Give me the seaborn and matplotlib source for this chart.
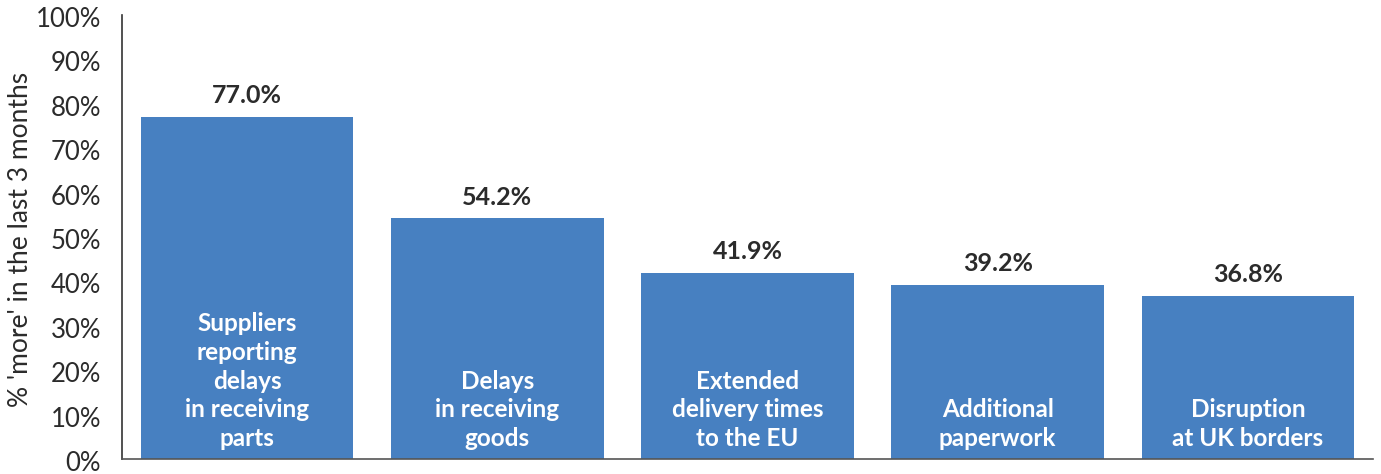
import matplotlib
matplotlib.use("Agg")
import matplotlib.pyplot as plt
import matplotlib.transforms as mtransforms
import seaborn as sns
import pandas as pd

# Survey results: share of respondents reporting 'more' of each issue
categories = [
    "Suppliers\nreporting\ndelays\nin receiving\nparts",
    "Delays\nin receiving\ngoods",
    "Extended\ndelivery times\nto the EU",
    "Additional\npaperwork",
    "Disruption\nat UK borders",
]
values = [77.0, 54.2, 41.9, 39.2, 36.8]
y_ticks = [0, 10, 20, 30, 40, 50, 60, 70, 80, 90, 100]

bar_color = "#4780C1"
text_dark = "#2b2b2b"

sns.set_theme(style="white")
plt.rcParams["font.family"] = ["Lato", "DejaVu Sans"]

df = pd.DataFrame({"category": categories, "value": values})

fig = plt.figure(figsize=(13.81, 4.74), dpi=100)
ax = fig.add_axes([122 / 1381, 15 / 474, (1373 - 122) / 1381, (459 - 15) / 474])

sns.barplot(data=df, x="category", y="value", color=bar_color, saturation=1,
            width=0.85, ax=ax, edgecolor="none")

ax.set_xlim(-0.5, 4.5)
ax.set_ylim(0, 100)
ax.set_yticks(y_ticks)
ax.set_yticklabels([f"{t}%" for t in y_ticks], fontsize=18.5, color=text_dark,
                   fontweight="normal")
ax.tick_params(axis="y", length=0, pad=15)
ax.tick_params(axis="x", length=0, labelbottom=False)
ax.set_xlabel("")
ylab = ax.set_ylabel("% 'more' in the last 3 months", fontsize=19,
                     color=text_dark, fontweight="normal")
ylab.set_verticalalignment("center")
ax.yaxis.set_label_coords(-0.0815, 0.495)

# nudge tick labels slightly below their gridline position
shift = mtransforms.ScaledTranslation(0, -2 / 100, fig.dpi_scale_trans)
for lbl in ax.get_yticklabels():
    lbl.set_transform(lbl.get_transform() + shift)

for side in ["top", "right"]:
    ax.spines[side].set_visible(False)
ax.spines["left"].set_color("#333333")
ax.spines["left"].set_linewidth(1.2)
ax.spines["bottom"].set_color("#555555")
ax.spines["bottom"].set_linewidth(1.2)

for i, (cat, v) in enumerate(zip(categories, values)):
    ax.annotate(f"{v:.1f}%", xy=(i, v), xytext=(0, 7), textcoords="offset points",
                ha="center", va="bottom", fontsize=18, fontweight="bold",
                color=text_dark)
    ax.text(i, 2.0, cat, ha="center", va="bottom", fontsize=17.5,
            fontweight="bold", color="white", linespacing=1.3)

fig.savefig("out.png", dpi=100)
